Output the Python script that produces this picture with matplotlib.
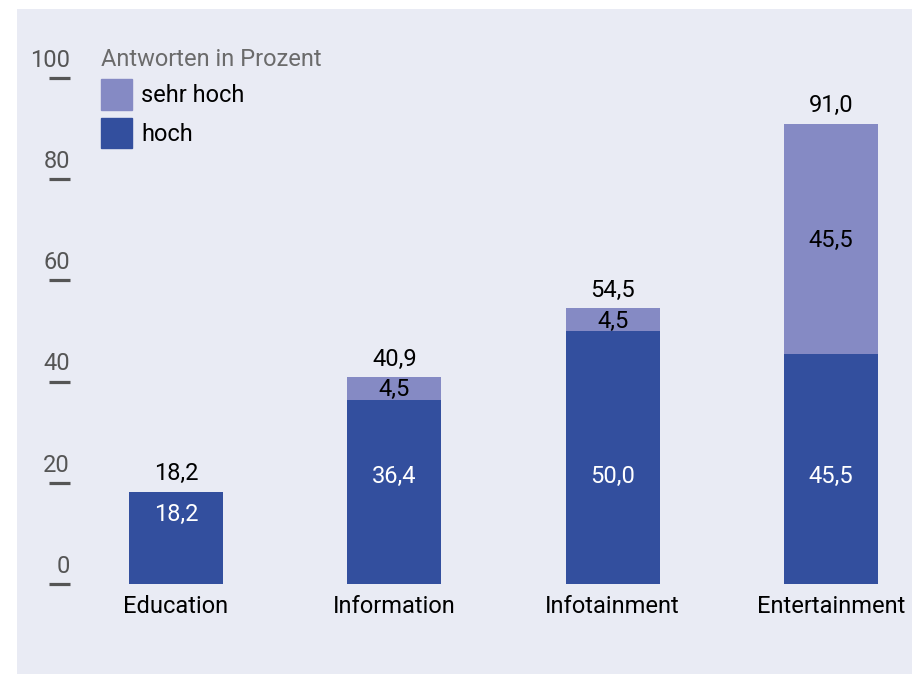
import matplotlib.pyplot as plt
from matplotlib.patches import Patch

plt.rcParams['font.family'] = ['Liberation Sans Narrow', 'Roboto', 'DejaVu Sans']

categories = ["Education", "Information", "Infotainment", "Entertainment"]
hoch = [18.2, 36.4, 50.0, 45.5]
sehr_hoch = [0.0, 4.5, 4.5, 45.5]
totals = [18.2, 40.9, 54.5, 91.0]
yticks = [0, 20, 40, 60, 80, 100]

c_hoch = "#334f9e"
c_sehr = "#858ac4"
bg = "#e9ebf4"
fs = 17


def fmt(v):
    return f"{v:.1f}".replace(".", ",")


fig = plt.figure(figsize=(9.13, 6.74), dpi=100)
W, H = 913, 674
ax = fig.add_axes([17 / W, 0, (912 - 17) / W, (674 - 9) / H])
ax.set_facecolor(bg)

x = list(range(len(categories)))
px = 218.33  # pixels per category
ax.set_xlim((17 - 176) / px, (912 - 176) / px)
ax.set_ylim(-(674 - 584) / 5.06, (584 - 9) / 5.06)

bw = 94 / px
ax.bar(x, hoch, width=bw, color=c_hoch)
ax.bar(x, sehr_hoch, width=bw, bottom=hoch, color=c_sehr)

for xi, h, s, t in zip(x, hoch, sehr_hoch, totals):
    # total above the bar
    ax.annotate(fmt(t), (xi, h + s), xytext=(0, 13), textcoords="offset points",
                ha="center", va="center", fontsize=fs, color="black")
    # hoch value inside
    ax.text(xi, min(21.3, h - 4.4), fmt(h), ha="center", va="center",
            fontsize=fs, color="white")
    if s > 0:
        ax.text(xi, h + s / 2 - 0.3, fmt(s), ha="center", va="center",
                fontsize=fs, color="black")

for s in ax.spines.values():
    s.set_visible(False)

spine_x = (70 - 176) / px
ax.spines['left'].set_position(('data', spine_x))
ax.spines['bottom'].set_position(('data', 0))
ax.set_yticks(yticks)
ax.set_yticklabels([])
ax.tick_params(axis='y', length=15, width=2.3, color="#555555", direction='out')
for v in yticks:
    ax.annotate(str(v), (spine_x, v), xytext=(0, 8), textcoords="offset points",
                ha="right", va="baseline", fontsize=fs, color="#555555")

ax.set_xticks(x)
ax.set_xticklabels(categories, fontsize=fs, color="black")
ax.tick_params(axis='x', length=0, pad=8)

handles = [Patch(color=c_sehr, label="sehr hoch"), Patch(color=c_hoch, label="hoch")]
leg = ax.legend(handles=handles, title="Antworten in Prozent", alignment="left",
                loc="upper left", bbox_to_anchor=(101 / W, 1 - 48 / H),
                bbox_transform=fig.transFigure, frameon=False, fontsize=fs,
                title_fontsize=fs, handlelength=1.3, handleheight=1.6,
                handletextpad=0.4, labelspacing=0.35, borderpad=0, borderaxespad=0)
leg.get_title().set_color("#6b6b6b")

fig.savefig("out.png", dpi=100, facecolor="white")
